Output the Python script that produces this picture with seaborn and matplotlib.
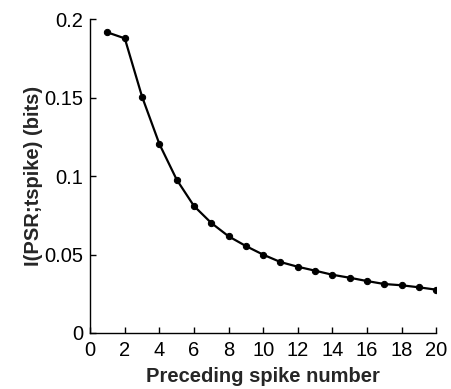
import matplotlib
matplotlib.use("Agg")
import matplotlib.pyplot as plt
import seaborn as sns
import pandas as pd

# values
spike_number = list(range(1, 21))
info_bits = [0.1915, 0.1877, 0.1505, 0.1204, 0.0977, 0.0809, 0.0701, 0.0616,
             0.0554, 0.0499, 0.0452, 0.0422, 0.0397, 0.0371, 0.0352, 0.0331,
             0.0312, 0.0304, 0.0291, 0.0276]
x_ticks = list(range(0, 21, 2))
y_ticks = [0, 0.05, 0.1, 0.15, 0.2]
y_tick_labels = ["0", "0.05", "0.1", "0.15", "0.2"]

sns.set_style("ticks")
plt.rcParams["font.family"] = ["Liberation Sans", "DejaVu Sans"]

df = pd.DataFrame({"spike": spike_number, "info": info_bits})

fig = plt.figure(figsize=(4.51, 3.89), dpi=100)
ax = fig.add_axes([0.2, 0.144, 0.767, 0.807])
sns.lineplot(data=df, x="spike", y="info", ax=ax, color="black", linewidth=1.6,
             marker="o", markersize=4.5, markeredgecolor="black")

ax.set_xlim(0, 20)
ax.set_ylim(0, 0.2)
ax.set_xticks(x_ticks)
ax.set_yticks(y_ticks)
ax.set_yticklabels(y_tick_labels)
ax.tick_params(direction="in", labelsize=14.5, length=4, width=1, colors="black")
ax.tick_params(axis="x", pad=6)
ax.tick_params(axis="y", pad=5)
for side in ["top", "right"]:
    ax.spines[side].set_visible(False)
for side in ["left", "bottom"]:
    ax.spines[side].set_linewidth(1.0)
    ax.spines[side].set_color("black")

ax.set_xlabel("Preceding spike number", fontsize=14.5, fontweight="bold", labelpad=5)
ax.set_ylabel("I(PSR;tspike) (bits)", fontsize=14.5, fontweight="bold", labelpad=1)

fig.savefig("out.png", dpi=100)
